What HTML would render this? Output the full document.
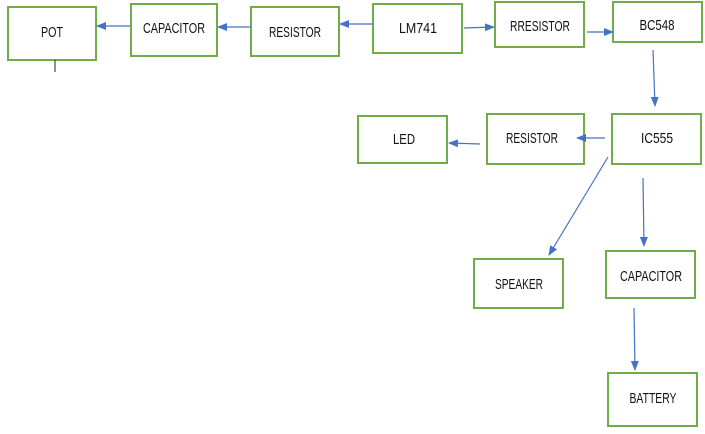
<!DOCTYPE html>
<html><head><meta charset="utf-8"><style>
html,body{margin:0;padding:0;background:#fff;}
svg{display:block;}
text{font-family:"Liberation Sans",sans-serif;font-size:15px;fill:#111;text-anchor:middle;dominant-baseline:middle;}
rect{fill:#fff;stroke:#70ad47;stroke-width:2;}
line{stroke:#4472c4;stroke-width:1.2;}
</style></head><body>
<svg width="705" height="434" viewBox="0 0 705 434">
<defs><marker id="a" markerWidth="10" markerHeight="8" refX="9" refY="4" orient="auto" markerUnits="userSpaceOnUse"><path d="M0,0 L10,4 L0,8 z" fill="#4472c4"/></marker></defs>
<rect x="8" y="7" width="88" height="53"/><text x="52" y="33" textLength="22" lengthAdjust="spacingAndGlyphs">POT</text>
<rect x="131" y="4" width="86" height="52"/><text x="174" y="29" textLength="62" lengthAdjust="spacingAndGlyphs">CAPACITOR</text>
<rect x="251" y="7" width="88" height="49"/><text x="295" y="33" textLength="52" lengthAdjust="spacingAndGlyphs">RESISTOR</text>
<rect x="373" y="4" width="89" height="49"/><text x="418" y="29" textLength="38" lengthAdjust="spacingAndGlyphs">LM741</text>
<rect x="495" y="2" width="89" height="45"/><text x="540" y="27" textLength="60" lengthAdjust="spacingAndGlyphs">RRESISTOR</text>
<rect x="613" y="2" width="89" height="40"/><text x="657" y="26" textLength="35" lengthAdjust="spacingAndGlyphs">BC548</text>
<rect x="612" y="114" width="89" height="50"/><text x="657" y="139" textLength="32" lengthAdjust="spacingAndGlyphs">IC555</text>
<rect x="487" y="114" width="97" height="50"/><text x="532" y="139" textLength="52" lengthAdjust="spacingAndGlyphs">RESISTOR</text>
<rect x="358" y="116" width="89" height="47"/><text x="404" y="140" textLength="22" lengthAdjust="spacingAndGlyphs">LED</text>
<rect x="474" y="259" width="89" height="49"/><text x="519" y="285" textLength="48" lengthAdjust="spacingAndGlyphs">SPEAKER</text>
<rect x="606" y="251" width="89" height="47"/><text x="651" y="277" textLength="62" lengthAdjust="spacingAndGlyphs">CAPACITOR</text>
<rect x="608" y="373" width="89" height="53"/><text x="653" y="399" textLength="47" lengthAdjust="spacingAndGlyphs">BATTERY</text>
<line x1="130" y1="26" x2="97" y2="26" marker-end="url(#a)"/>
<line x1="251" y1="27" x2="218" y2="27" marker-end="url(#a)"/>
<line x1="373" y1="24" x2="340" y2="24" marker-end="url(#a)"/>
<line x1="464" y1="28" x2="494" y2="27" marker-end="url(#a)"/>
<line x1="587" y1="32" x2="613" y2="32" marker-end="url(#a)"/>
<line x1="653" y1="50" x2="655" y2="106" marker-end="url(#a)"/>
<line x1="605" y1="138" x2="577" y2="138" marker-end="url(#a)"/>
<line x1="480" y1="144" x2="449" y2="143" marker-end="url(#a)"/>
<line x1="608" y1="157" x2="549" y2="255" marker-end="url(#a)"/>
<line x1="643" y1="178" x2="644" y2="246" marker-end="url(#a)"/>
<line x1="634" y1="308" x2="635" y2="370" marker-end="url(#a)"/>
<line x1="55" y1="60" x2="55" y2="72" style="stroke:#222;stroke-width:1"/>
</svg>
</body></html>
